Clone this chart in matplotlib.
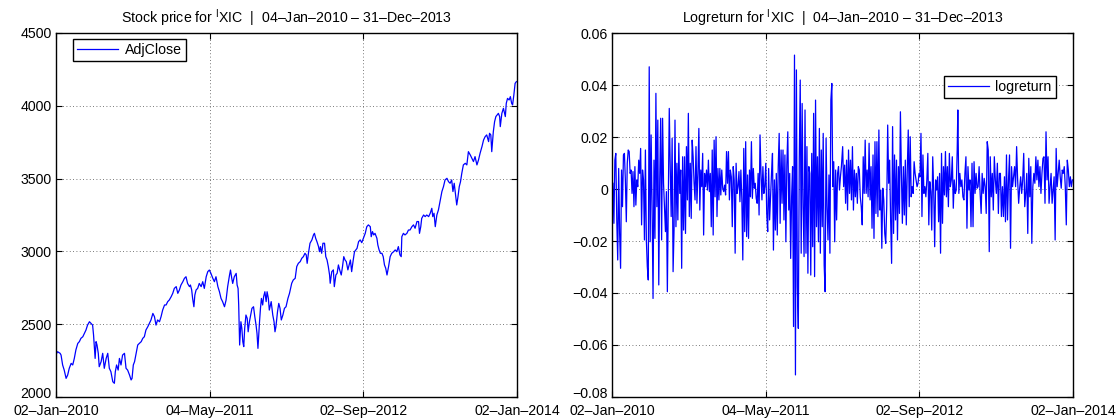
import numpy as np
import matplotlib
matplotlib.use("Agg")
import matplotlib.pyplot as plt
import matplotlib.dates as mdates
import matplotlib.transforms as mtransforms
from matplotlib.ticker import FixedLocator, FuncFormatter

plt.rcParams["font.family"] = ["Liberation Sans", "DejaVu Sans"]
plt.rcParams["mathtext.fontset"] = "custom"
plt.rcParams["mathtext.rm"] = "Liberation Sans"

FS = 10.2

# ---- data -----------------------------------------------------------------
BASE = np.datetime64("2010-01-02")          # day 0 of the x range
# adjusted close, sampled by calendar day offset from BASE
price_day = [
    2, 5, 13, 16, 21, 26, 32, 37, 42, 48, 53, 58, 63, 69, 74, 79, 85, 90, 95, 100,
    106, 111, 116, 119, 124, 127, 130, 134, 137, 143, 148, 153, 159, 164, 169, 174,
    180, 185, 188, 192, 197, 201, 206, 211, 217, 222, 227, 233, 238, 241, 245, 249,
    254, 259, 264, 270, 275, 280, 285, 291, 296, 301, 307, 312, 317, 322, 328, 333,
    338, 344, 349, 354, 359, 365, 370, 375, 381, 386, 391, 396, 402, 407, 412, 417,
    423, 426, 430, 433, 437, 440, 444, 449, 454, 460, 465, 470, 476, 481, 486, 491,
    497, 502, 507, 513, 518, 523, 528, 534, 539, 544, 550, 553, 557, 560, 565, 571,
    574, 577, 579, 582, 586, 589, 592, 595, 598, 602, 606, 609, 613, 617, 621, 626,
    630, 634, 637, 640, 645, 648, 651, 655, 658, 662, 666, 669, 673, 676, 682, 687,
    691, 694, 697, 702, 706, 710, 714, 719, 724, 729, 735, 740, 747, 752, 758, 763,
    768, 774, 779, 784, 789, 793, 796, 800, 805, 811, 816, 819, 823, 827, 832, 835,
    838, 842, 846, 851, 855, 859, 863, 867, 869, 874, 879, 882, 887, 891, 895, 899,
    904, 908, 912, 916, 920, 925, 929, 933, 937, 942, 946, 950, 954, 959, 964, 969,
    974, 980, 985, 990, 996, 999, 1003, 1007, 1011, 1017, 1020, 1024, 1028, 1033,
    1037, 1041, 1045, 1049, 1054, 1059, 1064, 1070, 1075, 1080, 1085, 1090, 1094,
    1096, 1101, 1106, 1112, 1117, 1122, 1128, 1133, 1138, 1144, 1149, 1152, 1156,
    1159, 1165, 1170, 1175, 1181, 1186, 1191, 1194, 1198, 1202, 1207, 1212, 1217,
    1223, 1228, 1233, 1239, 1244, 1249, 1254, 1258, 1262, 1265, 1270, 1274, 1278,
    1282, 1286, 1291, 1297, 1302, 1307, 1313, 1318, 1323, 1328, 1334, 1339, 1344,
    1350, 1355, 1360, 1365, 1371, 1374, 1378, 1381, 1386, 1390, 1394, 1398, 1402,
    1406, 1408, 1413, 1418, 1424, 1427, 1431, 1436, 1440, 1444, 1447, 1451, 1455,
    1459,
]
price_close = [
    2300, 2311, 2300, 2288, 2220, 2185, 2128, 2151, 2197, 2231, 2220, 2265, 2323, 2368,
    2380, 2403, 2414, 2437, 2460, 2494, 2517, 2506, 2494, 2426, 2265, 2380, 2357, 2300,
    2208, 2243, 2300, 2197, 2265, 2300, 2197, 2174, 2105, 2094, 2174, 2220, 2185, 2265,
    2220, 2288, 2300, 2197, 2185, 2151, 2117, 2128, 2220, 2243, 2300, 2357, 2368, 2380,
    2403, 2414, 2460, 2483, 2506, 2529, 2574, 2552, 2494, 2529, 2517, 2552, 2597, 2632,
    2632, 2655, 2666, 2689, 2712, 2746, 2758, 2712, 2735, 2769, 2792, 2815, 2826, 2780,
    2758, 2769, 2735, 2677, 2620, 2700, 2735, 2746, 2780, 2758, 2792, 2746, 2826, 2861,
    2872, 2849, 2815, 2792, 2826, 2758, 2723, 2677, 2655, 2620, 2666, 2758, 2838, 2872,
    2815, 2780, 2826, 2849, 2769, 2746, 2632, 2357, 2517, 2471, 2380, 2346, 2471, 2563,
    2540, 2448, 2517, 2563, 2609, 2620, 2552, 2494, 2437, 2334, 2517, 2609, 2677, 2632,
    2689, 2723, 2655, 2723, 2677, 2597, 2655, 2563, 2517, 2448, 2483, 2586, 2643, 2609,
    2529, 2563, 2609, 2620, 2677, 2712, 2781, 2804, 2815, 2896, 2918, 2930, 2953, 2964,
    2987, 2976, 2918, 2987, 3056, 3079, 3113, 3124, 3090, 3067, 3033, 2998, 3033, 2987,
    3056, 3056, 2964, 2941, 2896, 2838, 2781, 2861, 2873, 2758, 2838, 2850, 2907, 2873,
    2838, 2896, 2964, 2941, 2930, 2873, 2907, 2941, 2861, 2941, 2998, 3010, 3021, 3067,
    3079, 3060, 3090, 3124, 3170, 3182, 3170, 3101, 3136, 3113, 3124, 3090, 3044, 3010,
    2987, 2987, 2964, 2907, 2884, 2838, 2896, 2964, 2987, 2998, 3010, 2998, 3033, 2976,
    2964, 3101, 3124, 3113, 3124, 3147, 3147, 3170, 3182, 3159, 3205, 3205, 3124, 3170,
    3227, 3250, 3239, 3250, 3239, 3262, 3296, 3239, 3262, 3170, 3250, 3285, 3342, 3411,
    3445, 3491, 3502, 3479, 3468, 3491, 3411, 3468, 3411, 3319, 3376, 3445, 3479, 3536,
    3594, 3605, 3594, 3685, 3662, 3639, 3617, 3651, 3594, 3628, 3674, 3720, 3765, 3788,
    3800, 3754, 3811, 3800, 3685, 3823, 3891, 3926, 3937, 3948, 3926, 3857, 3948, 3983,
    3926, 4017, 4051, 4040, 4063, 4017, 4006, 4074, 4154, 4166,
]

# daily log returns, one list per calendar year (evenly spread over the year)
lr_2010 = [
    0.0022, -0.0132, 0.0111, 0.0137, -0.0119, -0.0273, 0.0079, -0.0171, -0.0305, 0.0073,
    -0.0068, 0.0131, 0.0137, 0.0035, -0.0126, 0.0099, 0.0150, 0.0144, 0.0060, 0.0073,
    -0.0017, 0.0067, -0.0068, 0.0086, -0.0062, 0.0035, 0.0009, 0.0111, 0.0060, 0.0156,
    -0.0138, 0.0073, 0.0035, -0.0196, 0.0150, -0.0196, -0.0299, -0.0350, 0.0470, -0.0203,
    0.0208, -0.0068, -0.0421, 0.0111, -0.0190, 0.0368, -0.0068, 0.0265, -0.0369, 0.0035,
    0.0272, -0.0196, 0.0272, 0.0022, -0.0074, -0.0164, -0.0010, -0.0395, -0.0042, 0.0310,
    0.0086, -0.0106, 0.0195, -0.0318, -0.0158, 0.0265, -0.0145, 0.0099, -0.0119, 0.0176,
    -0.0017, 0.0073, -0.0305, 0.0124, -0.0158, 0.0124, -0.0171, 0.0163, -0.0042, 0.0291,
    -0.0106, 0.0099, -0.0113, 0.0188, 0.0124, 0.0022, -0.0042, 0.0163, -0.0055, 0.0060,
    0.0233, -0.0081, 0.0073, 0.0009, 0.0137, -0.0177, 0.0060, 0.0009, 0.0073, -0.0004,
    0.0111, -0.0010, 0.0060, -0.0145, 0.0150, -0.0177, 0.0188, -0.0030, 0.0201, -0.0106,
    0.0079, -0.0042, 0.0079, -0.0023, 0.0073, 0.0003, -0.0010, 0.0015, -0.0023, 0.0144,
]
lr_2011 = [
    0.0022, 0.0144, -0.0042, 0.0073, 0.0047, -0.0145, 0.0086, 0.0035, -0.0247, 0.0099,
    -0.0017, 0.0009, 0.0067, -0.0049, 0.0073, -0.0042, -0.0273, 0.0156, -0.0164, 0.0182,
    -0.0183, 0.0054, -0.0190, 0.0073, -0.0030, 0.0182, -0.0036, 0.0079, 0.0003, 0.0022,
    -0.0036, -0.0055, 0.0060, -0.0100, 0.0208, 0.0060, -0.0042, 0.0086, -0.0017, 0.0009,
    0.0099, -0.0094, -0.0164, 0.0079, -0.0119, -0.0030, 0.0060, 0.0137, -0.0235, 0.0035,
    -0.0158, 0.0060, -0.0177, 0.0086, 0.0214, -0.0132, 0.0150, -0.0055, 0.0150, -0.0119,
    0.0131, -0.0203, 0.0092, 0.0220, -0.0081, 0.0060, -0.0267, -0.0030, 0.0086, -0.0529,
    0.0515, -0.0715, 0.0458, -0.0376, -0.0536, 0.0111, 0.0419, -0.0247, 0.0329, -0.0068,
    -0.0260, 0.0304, -0.0247, 0.0163, -0.0324, 0.0086, 0.0060, -0.0331, 0.0137, -0.0222,
    0.0291, -0.0337, 0.0342, -0.0145, 0.0124, -0.0203, 0.0233, -0.0247, 0.0150, -0.0145,
    0.0214, -0.0292, -0.0395, 0.0195, -0.0068, -0.0196, 0.0054, -0.0247, 0.0342, 0.0406,
    0.0009, 0.0105, -0.0203, 0.0073, -0.0119, 0.0060, 0.0086, -0.0004, 0.0047, 0.0086,
]
lr_2012 = [
    0.0163, 0.0009, 0.0092, -0.0055, 0.0111, -0.0081, 0.0150, -0.0017, 0.0111, -0.0042,
    0.0163, -0.0081, 0.0073, -0.0030, 0.0060, -0.0055, 0.0086, 0.0073, -0.0030, -0.0068,
    -0.0138, 0.0124, -0.0017, 0.0188, -0.0017, 0.0073, -0.0030, 0.0176, -0.0042, 0.0086,
    -0.0151, 0.0131, -0.0190, 0.0182, -0.0094, 0.0182, -0.0106, 0.0227, -0.0081, -0.0004,
    -0.0228, 0.0003, -0.0042, -0.0171, -0.0209, -0.0068, 0.0246, 0.0022, 0.0111, -0.0119,
    -0.0286, 0.0240, -0.0171, 0.0131, -0.0119, 0.0111, -0.0196, 0.0086, -0.0094, 0.0297,
    0.0060, -0.0132, 0.0086, -0.0100, 0.0111, -0.0138, 0.0073, 0.0227, -0.0068, 0.0201,
    -0.0030, 0.0009, -0.0017, 0.0105, 0.0060, 0.0035, 0.0009, 0.0022, 0.0060, 0.0047,
    0.0214, -0.0106, 0.0131, -0.0017, 0.0009, -0.0030, 0.0035, 0.0137, -0.0138, 0.0028,
    -0.0010, -0.0158, 0.0124, -0.0004, -0.0222, 0.0035, -0.0004, 0.0047, -0.0126, 0.0060,
    -0.0247, 0.0137, -0.0132, 0.0086, -0.0023, 0.0144, -0.0030, 0.0086, -0.0068, 0.0137,
    0.0009, 0.0035, 0.0124, -0.0074, 0.0035, -0.0017, -0.0004, 0.0150,
]
lr_2013 = [
    0.0304, -0.0017, 0.0060, 0.0009, 0.0035, -0.0030, -0.0042, 0.0060, 0.0124, -0.0151,
    0.0086, -0.0004, 0.0035, -0.0145, 0.0099, -0.0145, 0.0105, -0.0017, 0.0060, 0.0003,
    0.0009, 0.0086, -0.0017, -0.0094, 0.0060, -0.0017, 0.0041, 0.0009, -0.0094, 0.0182,
    0.0150, -0.0241, 0.0124, -0.0030, 0.0060, -0.0081, 0.0124, 0.0035, -0.0017, 0.0099,
    -0.0094, 0.0060, 0.0060, -0.0106, 0.0009, -0.0106, 0.0047, -0.0126, 0.0131, -0.0119,
    0.0035, 0.0131, -0.0228, 0.0086, 0.0009, 0.0047, 0.0086, 0.0009, 0.0163, 0.0035,
    -0.0055, 0.0003, 0.0047, -0.0017, 0.0035, 0.0137, -0.0068, -0.0017, 0.0060, -0.0171,
    0.0118, -0.0030, 0.0086, -0.0209, 0.0009, 0.0060, 0.0022, 0.0124, 0.0035, 0.0111,
    0.0009, 0.0086, -0.0017, 0.0060, 0.0118, 0.0124, -0.0055, 0.0220, 0.0035, 0.0124,
    -0.0055, 0.0009, 0.0060, -0.0055, -0.0004, 0.0047, -0.0196, 0.0156, 0.0009, 0.0060,
    0.0111, 0.0047, 0.0003, 0.0073, 0.0060, 0.0086, 0.0009, -0.0138, 0.0111, 0.0073,
    0.0009, 0.0047, 0.0009, 0.0035,
]
lr_years = [("2010-01-05", "2010-12-31", lr_2010), ("2011-01-03", "2011-12-30", lr_2011),
            ("2012-01-03", "2012-12-31", lr_2012), ("2013-01-02", "2013-12-31", lr_2013)]

X_START, X_END = "2010-01-02", "2014-01-02"
TITLE_RANGE = "04\u2013Jan\u20132010 \u2013 31\u2013Dec\u20132013"

# ---- build series -------------------------------------------------------------
p_dates = BASE + np.array(price_day).astype("timedelta64[D]")
p_vals = np.array(price_close, dtype=float)

lr_dates, lr_vals = [], []
for start, end, vals in lr_years:
    t0 = mdates.datestr2num(start)
    t1 = mdates.datestr2num(end)
    lr_dates.append(np.linspace(t0, t1, len(vals)))
    lr_vals.append(vals)
lr_dates = np.concatenate(lr_dates)
lr_vals = np.concatenate(lr_vals)

x0, x1 = mdates.datestr2num(X_START), mdates.datestr2num(X_END)
xticks = np.linspace(x0, x1, 4)


def date_label(v, pos):
    return mdates.num2date(v).strftime("%d\u2013%b\u2013%Y")


def num_label(v, pos):
    s = f"{v:g}"
    return s.replace("-", "\u2212")


def style(ax, yticks):
    ax.set_xlim(x0, x1)
    ax.xaxis.set_major_locator(FixedLocator(xticks))
    ax.xaxis.set_major_formatter(FuncFormatter(date_label))
    ax.set_ylim(yticks[0], yticks[-1])
    ax.yaxis.set_major_locator(FixedLocator(yticks))
    ax.yaxis.set_major_formatter(FuncFormatter(num_label))
    ax.tick_params(direction="in", length=4, width=0.8, top=True, right=True,
                   labelsize=FS, colors="black")
    ax.tick_params(axis="x", pad=5)
    ax.tick_params(axis="y", pad=3)
    ax.grid(True, color="0.3", linestyle=(0, (1, 3)), linewidth=0.6)
    for sp in ax.spines.values():
        sp.set_linewidth(1.0)


fig = plt.figure(figsize=(11.2, 4.19), dpi=100)
axp = fig.add_axes([56 / 1120, 22 / 419, 461 / 1120, 364 / 419])
axr = fig.add_axes([612 / 1120, 22 / 419, 461 / 1120, 364 / 419])

axp.plot(p_dates, p_vals, color="#0000ff", lw=0.9, label="AdjClose")
style(axp, np.arange(2000, 4501, 500))
axp.set_title("Stock price for $^{\\mathrm{I}}$XIC  |  " + TITLE_RANGE, fontsize=FS, pad=7)
axp.legend(loc="upper left", bbox_to_anchor=(0.037, 0.984), fontsize=FS,
           handlelength=2.9, handletextpad=0.45, borderpad=0.3, borderaxespad=0,
           fancybox=False, framealpha=1, edgecolor="black")

axr.plot(lr_dates, lr_vals, color="#0000ff", lw=0.9, label="logreturn")
style(axr, np.round(np.arange(-0.08, 0.061, 0.02), 2))
axr.set_title("Logreturn for $^{\\mathrm{I}}$XIC  |  " + TITLE_RANGE, fontsize=FS, pad=7)
axr.legend(loc="upper right", bbox_to_anchor=(0.963, 0.882), fontsize=FS,
           handlelength=2.9, handletextpad=0.45, borderpad=0.3, borderaxespad=0,
           fancybox=False, framealpha=1, edgecolor="black")

for leg in (axp.get_legend(), axr.get_legend()):
    leg.get_frame().set_linewidth(1.0)

# lift the lowest y label a little so it clears the first date label
lift = mtransforms.ScaledTranslation(0, 3 / 72, fig.dpi_scale_trans)
for ax in (axp, axr):
    lbl = ax.yaxis.get_major_ticks()[0].label1
    lbl.set_transform(lbl.get_transform() + lift)

fig.savefig("out.png", dpi=100)
